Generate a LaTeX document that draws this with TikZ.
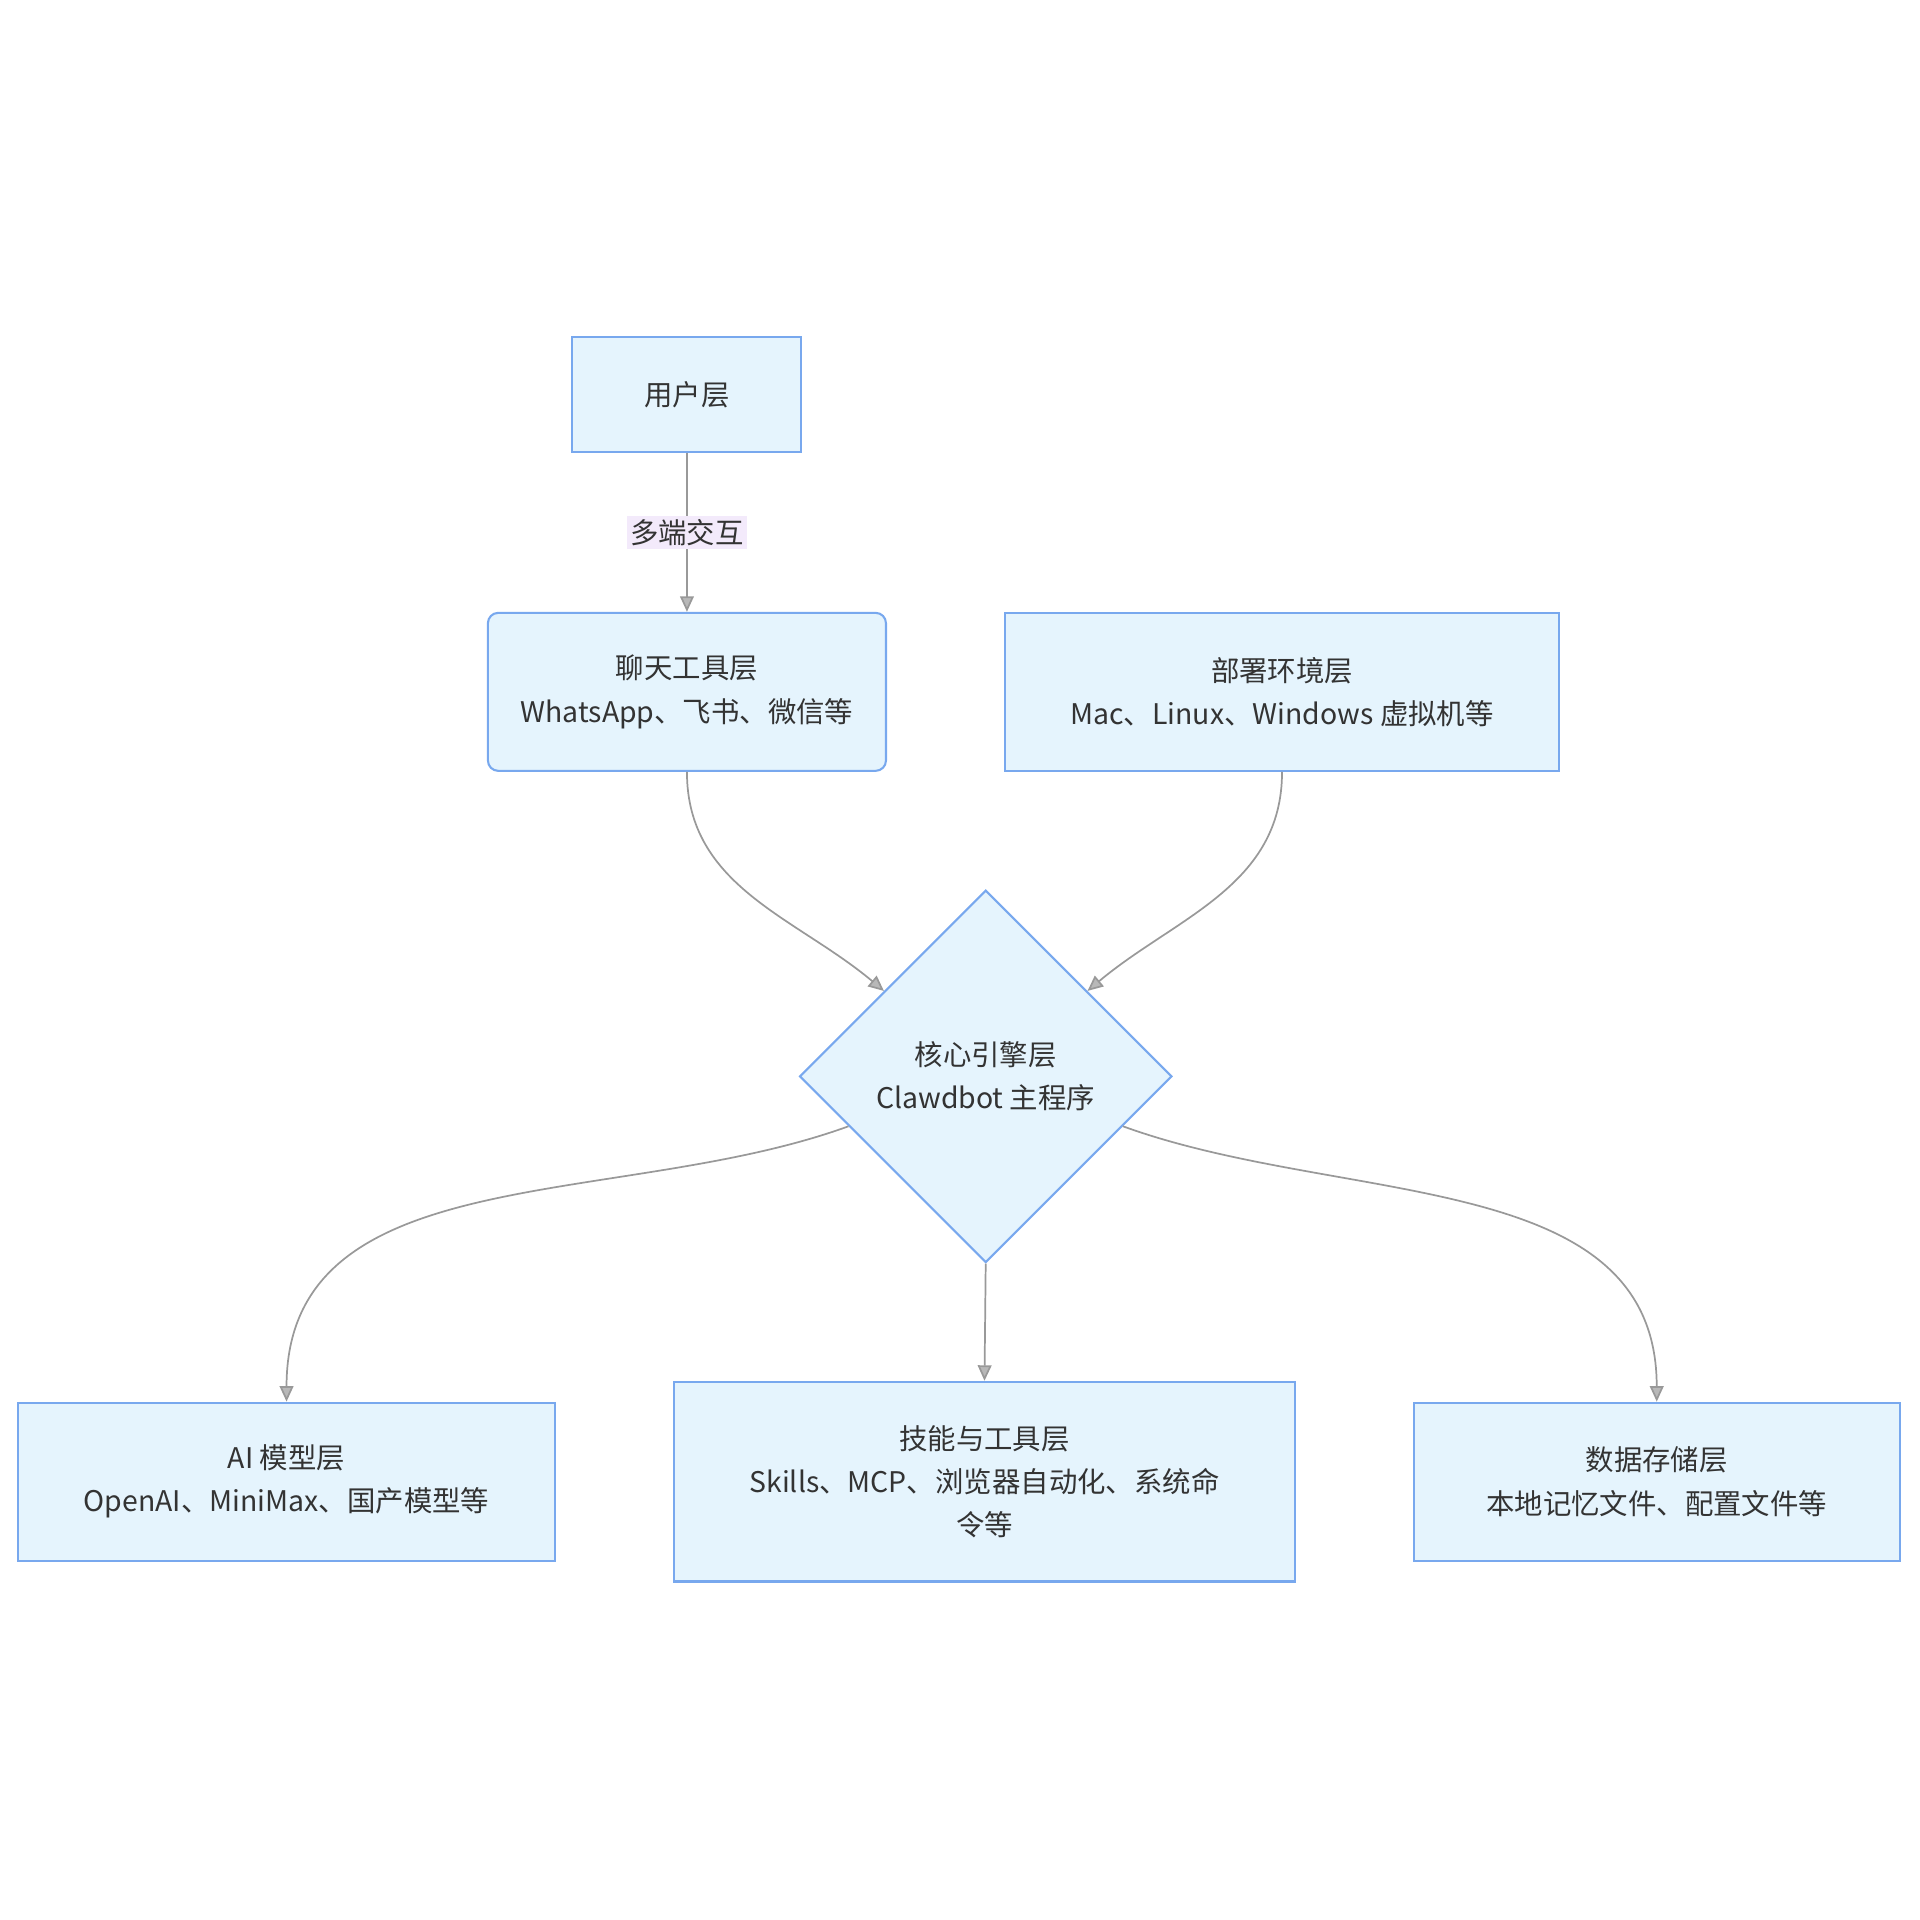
\documentclass[tikz,border=0pt]{standalone}
\usepackage{fontspec}
\setmainfont{Noto Sans CJK SC}
\usetikzlibrary{shapes.geometric,arrows.meta}
\definecolor{layerfill}{HTML}{E5F4FD}
\definecolor{layerdraw}{HTML}{78A8EE}
\definecolor{linkgray}{HTML}{999999}
\definecolor{tagfill}{HTML}{F3EAFB}
\begin{document}
\begin{tikzpicture}[x=0.025cm,y=-0.025cm,
  every node/.style={font=\fontsize{16.5pt}{25pt}\selectfont,text=black!80,align=center},
  layer/.style={rectangle,fill=layerfill,draw=layerdraw,line width=1.2pt,inner sep=0pt},
  link/.style={-{Triangle[length=9pt,width=8pt,fill=linkgray!70]},draw=linkgray,line width=1pt}]
  \useasboundingbox (0,0) rectangle (1568,1568);

  \node[layer,minimum width=4.675cm,minimum height=2.35cm]  (user)   at (561,322)  {用户层};
  \node[layer,rounded corners=6pt,minimum width=8.125cm,minimum height=3.225cm] (chat) at (561,565)
    {聊天工具层\\WhatsApp、飞书、微信等};
  \node[layer,minimum width=11.3cm,minimum height=3.225cm]  (deploy) at (1047,565)
    {部署环境层\\Mac、Linux、Windows 虚拟机等};
  \node[layer,diamond,aspect=1,minimum width=7.6cm,minimum height=7.6cm] (core) at (805,879)
    {核心引擎层\\Clawdbot 主程序};
  \node[layer,minimum width=10.975cm,minimum height=3.225cm] (model)  at (234,1210)
    {AI 模型层\\OpenAI、MiniMax、国产模型等};
  \node[layer,minimum width=12.675cm,minimum height=4.075cm] (skills) at (804,1210)
    {技能与工具层\\Skills、MCP、浏览器自动化、系统命\\令等};
  \node[layer,minimum width=9.925cm,minimum height=3.225cm]  (store)  at (1353,1210)
    {数据存储层\\本地记忆文件、配置文件等};

  \draw[link] (user) -- node[fill=tagfill,inner sep=2pt] {多端交互} (chat);
  \draw[link] (chat.south)   to[out=-90,in=140] (core.140);
  \draw[link] (deploy.south) to[out=-90,in=40]  (core.40);
  \draw[link] (core.200) to[out=200,in=90] (model.north);
  \draw[link] (core.south) -- (skills.north);
  \draw[link] (core.340) to[out=-20,in=90] (store.north);
\end{tikzpicture}
\end{document}
